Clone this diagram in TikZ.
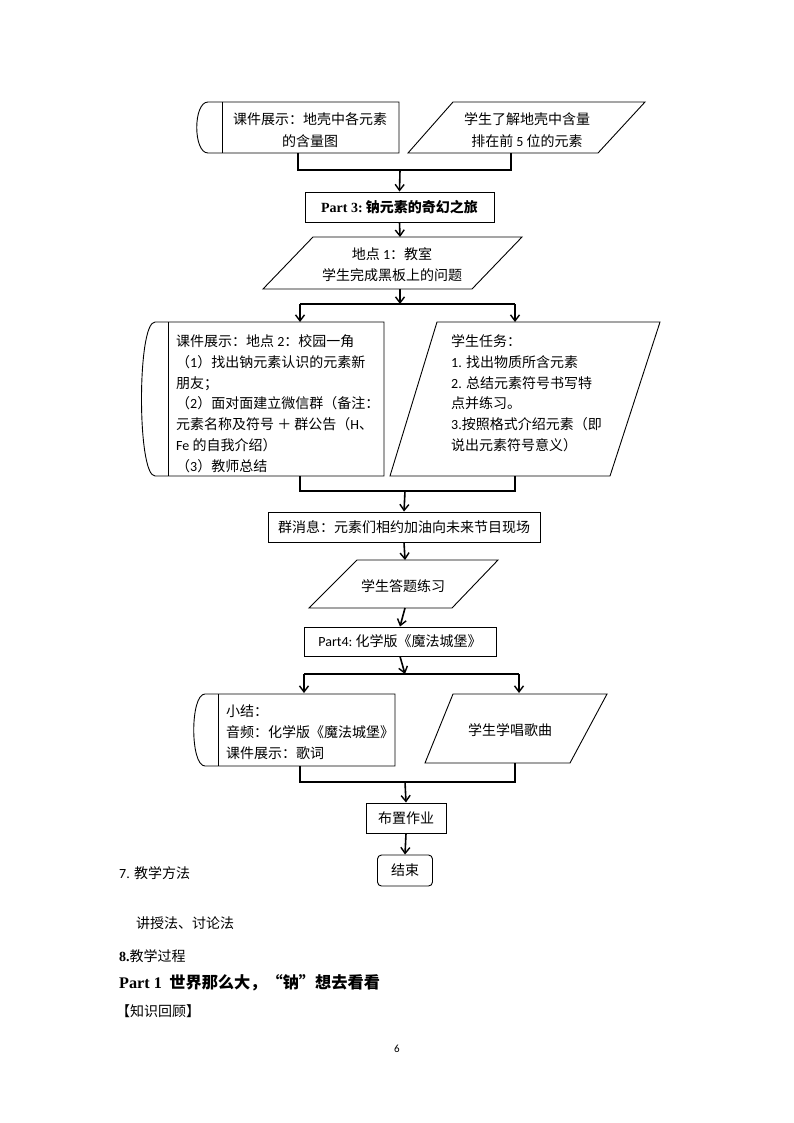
\documentclass[tikz,border=0pt]{standalone}
\usepackage{fontspec}
\setmainfont{Noto Sans CJK SC}
\newfontfamily\tnr{Liberation Serif}
\newfontfamily\cali{Carlito}
\usetikzlibrary{arrows.meta}
\begin{document}
\begin{tikzpicture}[x=1pt,y=-1pt,
  shp/.style={line width=0.9pt},
  brk/.style={line width=1.1pt},
  arr/.style={line width=1.6pt,-{Straight Barb[length=6pt,width=9pt,line width=1.4pt]}},
  txt/.style={font=\fontsize{14}{20.8}\selectfont, inner sep=0pt},
  box/.style={draw, line width=0.9pt, inner sep=0pt, font=\fontsize{14}{20.8}\selectfont},
]
\useasboundingbox (0,0) rectangle (794,1123);

% ---------- top row ----------
\draw[shp] (208,102) -- (399,102) -- (399,153) -- (208,153) .. controls (193,153) and (193,102) .. (208,102);
\draw[shp] (222,102) -- (222,153);
\node[txt, align=center, font=\fontsize{14}{22.5}\selectfont] (A) at (310,130) {课件展示：地壳中各元素\\的含量图};
\draw[shp] (453,102) -- (645,102) -- (598,153) -- (408,153) -- cycle;
\node[txt, align=center, font=\fontsize{14}{22.5}\selectfont] (B) at (527,130) {学生了解地壳中含量\\排在前 {\cali 5} 位的元素};
\coordinate (Ab) at (298,153);
\coordinate (Bb) at (511,153);
\coordinate (j1) at (400,170);
\draw[brk] (Ab) |- (j1) -| (Bb);

\node[box, minimum width=189, minimum height=30] (C) at (399.5,207) {{\tnr\bfseries Part 3:}\ \textbf{钠元素的奇幻之旅}};
\draw[arr] (j1) -- (C.north);

% ---------- 地点1 ----------
\draw[shp] (313,237) -- (522,237) -- (472,289) -- (263,289) -- cycle;
\coordinate (Dt) at (400,237);
\coordinate (Db) at (400,289);
\node[txt, align=center] (D) at (392,265) {地点 {\cali 1}：教室\\学生完成黑板上的问题};
\draw[arr] (C.south) -- (Dt);
\coordinate (s1) at (400,304);
\coordinate (s1l) at (300,304);
\coordinate (s1r) at (515,304);
\coordinate (Et) at (300,322);
\coordinate (Ft) at (515,322);
\draw[arr] (Db) -- (s1);
\draw[brk] (s1l) -- (s1r);
\draw[arr] (s1l) -- (Et);
\draw[arr] (s1r) -- (Ft);

% ---------- big boxes ----------
\draw[shp] (155,322) -- (384,322) -- (384,476) -- (155,476) .. controls (137,476) and (137,322) .. (155,322);
\draw[shp] (168,322) -- (168,476);
\node[txt, align=left, anchor=north west] (E) at (176,334.5) {课件展示：地点 {\cali 2}：校园一角\\（{\cali 1}）找出钠元素认识的元素新\\朋友；\\（{\cali 2}）面对面建立微信群（备注：\\元素名称及符号 ＋ 群公告（{\cali H}、\\{\cali Fe} 的自我介绍）\\（{\cali 3}）教师总结};
\draw[shp] (437,322) -- (660,322) -- (610,476) -- (390,476) -- cycle;
\node[txt, align=left, anchor=north west] (F) at (451,334.5) {学生任务：\\{\cali 1.} 找出物质所含元素\\{\cali 2.} 总结元素符号书写特\\点并练习。\\{\cali 3.}按照格式介绍元素（即\\说出元素符号意义）};
\coordinate (Eb) at (300,476);
\coordinate (Fb) at (515,476);
\coordinate (j2) at (405,491);
\draw[brk] (Eb) |- (j2) -| (Fb);

\node[box, minimum width=272, minimum height=30] (G) at (404,527) {群消息：元素们相约加油向未来节目现场};
\draw[arr] (j2) -- (G.north);

\draw[shp] (357,560) -- (498,560) -- (452,608) -- (309,608) -- cycle;
\coordinate (Ht) at (405,560);
\coordinate (Hb) at (405,608);
\node[txt] (H) at (403,586) {学生答题练习};
\draw[arr] (G.south) -- (Ht);

\node[box, minimum width=192, minimum height=29] (I) at (400,641.5) {{\cali Part4:}\ 化学版《魔法城堡》};
\draw[arr] (Hb) -- (I.north);

\coordinate (s2) at (405,674);
\coordinate (s2l) at (304,674);
\coordinate (s2r) at (519,674);
\coordinate (Jt) at (304,693);
\coordinate (Kt) at (519,693);
\draw[arr] (I.south) -- (s2);
\draw[brk] (s2l) -- (s2r);
\draw[arr] (s2l) -- (Jt);
\draw[arr] (s2r) -- (Kt);

% ---------- 小结 ----------
\draw[shp] (205,694) -- (395,694) -- (395,766) -- (205,766) .. controls (190,766) and (190,694) .. (205,694);
\draw[shp] (218,694) -- (218,766);
\node[txt, align=left, anchor=north west] (J) at (226,704.5) {小结：\\音频：化学版《魔法城堡》\\课件展示：歌词};
\draw[shp] (453,694) -- (607,694) -- (570,763) -- (425,763) -- cycle;
\node[txt] (K) at (510,730) {学生学唱歌曲};
\coordinate (Jb) at (300,766);
\coordinate (Kb) at (515,763);
\coordinate (j3) at (405,782);
\draw[brk] (Jb) |- (j3) -| (Kb);

\node[box, minimum width=80, minimum height=30] (L) at (406,818) {布置作业};
\draw[arr] (j3) -- (L.north);
\node[box, rounded corners=4pt, minimum width=55, minimum height=31] (M) at (405,870.5) {结束};
\draw[arr] (L.south) -- (M.north);

% ---------- text below ----------
\node[txt, anchor=west] (t7) at (119,873) {{\cali 7.} 教学方法};
\node[txt, anchor=west] (t7b) at (136,923) {讲授法、讨论法};
\node[txt, anchor=west] (t8) at (119,956) {{\tnr\bfseries 8.}教学过程};
\node[txt, anchor=west, font=\fontsize{16.2}{20}\selectfont\bfseries] (p1) at (119,983) {{\tnr Part 1}\ \ 世界那么大，“钠”想去看看};
\node[txt, anchor=west] (kh) at (116,1011) {【知识回顾】};
\node[txt, anchor=center, font=\fontsize{11}{12}\selectfont] (pg) at (397,1049) {{\cali 6}};
\end{tikzpicture}
\end{document}
